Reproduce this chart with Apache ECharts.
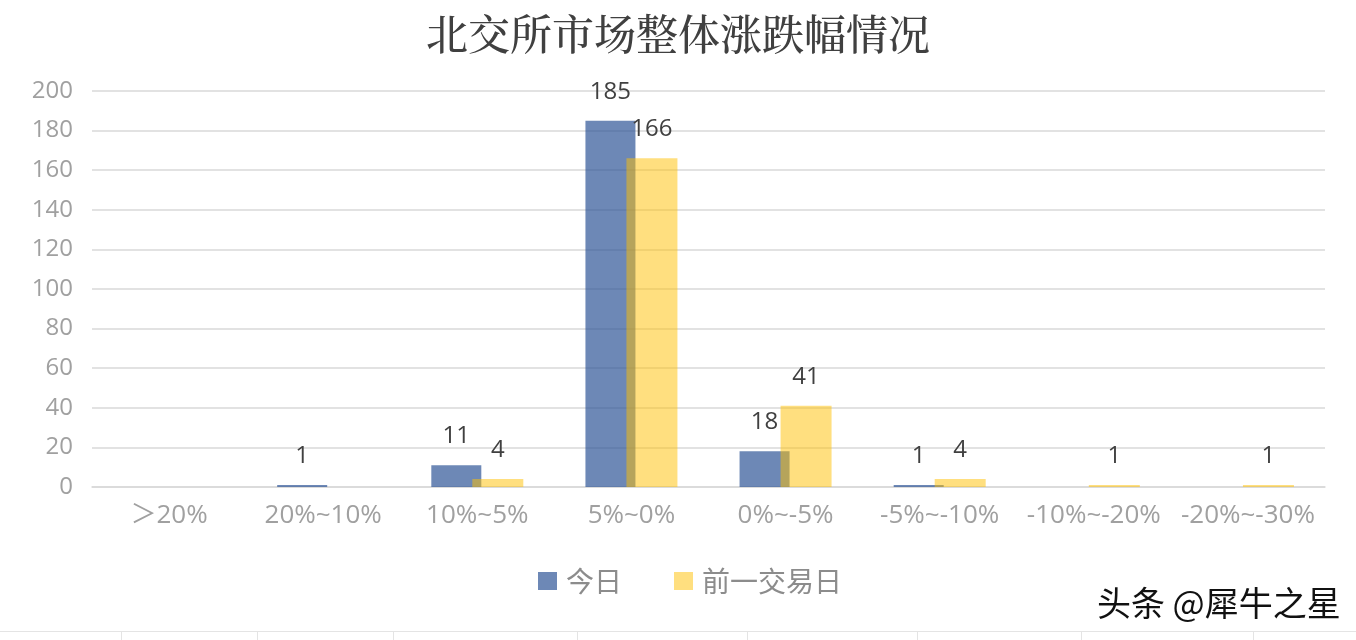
<!DOCTYPE html>
<html><head><meta charset="utf-8">
<script src="https://cdn.jsdelivr.net/npm/echarts@6/dist/echarts.min.js"></script>
<style>html,body{margin:0;padding:0;background:#fff}#c{width:1356px;height:640px}</style>
</head><body><div id="c"></div>
<script>
const categories = ['＞20%', '20%~10%', '10%~5%', '5%~0%', '0%~-5%', '-5%~-10%', '-10%~-20%', '-20%~-30%'];
const todayValues = [0, 1, 11, 185, 18, 1, 0, 0];
const prevValues = [0, 0, 4, 166, 41, 4, 1, 1];
const seriesNames = ['今日', '前一交易日'];
const yTicks = { min: 0, max: 200, interval: 20 };

const chart = echarts.init(document.getElementById('c'), null, { renderer: 'canvas' });
const latin = '"Open Sans", "Noto Sans CJK SC", sans-serif';
const labelCfg = {
  show: true, position: 'top', distance: 17,
  color: '#404040', fontSize: 24, fontFamily: latin,
  formatter: p => (p.value ? String(p.value) : '')
};
const vlines = [121, 257, 393, 577, 747, 917, 1081, 1253];
const gfx = [{
  type: 'line', shape: { x1: 0, y1: 631.5, x2: 1356, y2: 631.5 },
  style: { stroke: '#e4e4e4', lineWidth: 1 }, silent: true
}].concat(vlines.map(x => ({
  type: 'line', shape: { x1: x + 0.5, y1: 631, x2: x + 0.5, y2: 640 },
  style: { stroke: '#e4e4e4', lineWidth: 1 }, silent: true
}))).concat([{
  type: 'text', left: 1097, top: 586,
  style: {
    text: '头条 @犀牛之星', fill: '#111', fontSize: 34,
    fontFamily: '"Noto Sans CJK SC", sans-serif',
    textShadowColor: 'rgba(255,255,255,0.9)', textShadowBlur: 0, textShadowOffsetX: 1, textShadowOffsetY: 1
  }, silent: true
}]);

chart.setOption({
  backgroundColor: '#fff',
  animation: false,
  title: {
    text: '北交所市场整体涨跌幅情况', left: 'center', top: 8,
    textStyle: { color: '#404040', fontSize: 42, fontWeight: 500, fontFamily: '"Noto Serif CJK SC", "AR PL UKai CN", serif' }
  },
  legend: {
    bottom: 40, left: 533, itemWidth: 19, itemHeight: 18, itemGap: 52,
    icon: 'rect',
    textStyle: { color: '#8c8c8c', fontSize: 28, fontFamily: '"Noto Sans CJK SC", sans-serif', padding: [0, 0, 0, 4] },
    data: seriesNames
  },
  grid: { left: 92, right: 31, top: 91, bottom: 153, containLabel: false },
  xAxis: {
    type: 'category', data: categories,
    axisLine: { show: true, lineStyle: { color: '#d9d9d9', width: 1.5 } },
    axisTick: { show: false },
    axisLabel: { color: '#a0a0a0', fontSize: 26, fontFamily: latin, margin: 16, interval: 0 }
  },
  yAxis: {
    type: 'value', min: yTicks.min, max: yTicks.max, interval: yTicks.interval,
    axisLine: { show: false }, axisTick: { show: false },
    splitLine: { lineStyle: { color: '#d9d9d9', width: 1.5 } },
    axisLabel: { color: '#a0a0a0', fontSize: 24, fontFamily: latin, margin: 19 }
  },
  series: [
    {
      name: seriesNames[0], type: 'bar', data: todayValues,
      barWidth: 50, barGap: '-18%',
      itemStyle: { color: 'rgba(47,85,151,0.7)' },
      label: labelCfg
    },
    {
      name: seriesNames[1], type: 'bar', data: prevValues,
      barWidth: 51,
      itemStyle: { color: 'rgba(255,192,0,0.5)' },
      label: labelCfg
    }
  ],
  graphic: gfx
});
</script>
</body></html>
